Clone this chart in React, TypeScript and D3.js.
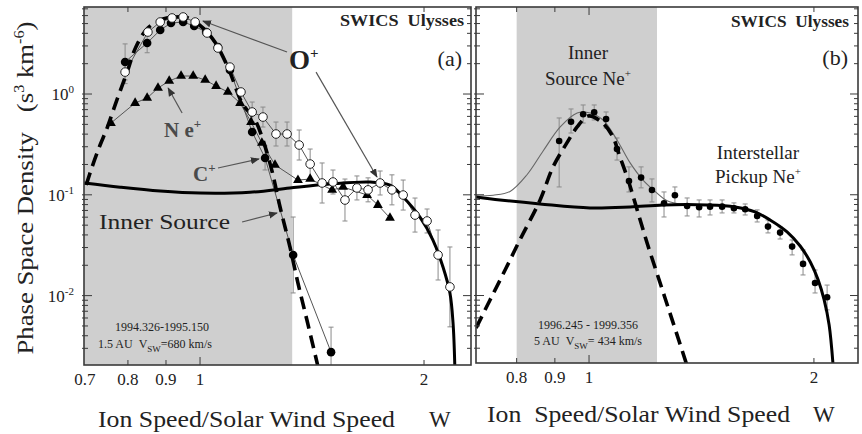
import * as d3 from "d3";

const W = 862;
const H = 434;
const FONT = "'Liberation Serif', 'DejaVu Serif', serif";

// ---------- panel (a): 1994.326-1995.150, 1.5 AU ----------
const aPickupX = [0.699, 0.781, 0.884, 1.0, 1.167, 1.32, 1.495, 1.693, 1.8, 1.875, 1.975, 2.056, 2.121, 2.167, 2.188, 2.2];
const aPickupY = [0.131, 0.119, 0.109, 0.104, 0.106, 0.117, 0.128, 0.134, 0.125, 0.095, 0.06, 0.0356, 0.0192, 0.0106, 0.00535, 0.002];

const aInnerX = [0.703, 0.716, 0.734, 0.75, 0.773, 0.798, 0.82, 0.851, 0.892, 0.928, 0.964, 1.006, 1.047, 1.094, 1.139, 1.186, 1.215, 1.25, 1.281, 1.321, 1.354, 1.392, 1.44];
const aInnerY = [0.125, 0.189, 0.312, 0.46, 0.872, 1.65, 2.93, 4.52, 5.55, 5.81, 5.68, 4.62, 3.28, 1.73, 0.814, 0.55, 0.35, 0.17, 0.0757, 0.0303, 0.0133, 0.00573, 0.002];

// O+ (open circles)
const oPlusX = [0.793, 0.851, 0.884, 0.917, 0.949, 0.985, 1.022, 1.057, 1.097, 1.135, 1.175, 1.215, 1.265, 1.309, 1.359, 1.406, 1.459, 1.509, 1.566, 1.625, 1.682, 1.746, 1.811, 1.875, 1.945, 2.019, 2.089, 2.167];
const oPlusY = [1.65, 4.12, 5.18, 5.68, 5.81, 5.18, 4.03, 2.86, 1.85, 1.047, 0.663, 0.591, 0.401, 0.401, 0.312, 0.202, 0.131, 0.134, 0.0888, 0.117, 0.112, 0.131, 0.112, 0.0995, 0.063, 0.055, 0.0253, 0.0122];
const oPlusErr = [1.3, 1, 1, 1, 1, 1, 1, 1, 1, 1, 1.256, 1.256, 1.315, 1.315, 1.409, 1.409, 1.58, 1.315, 1.615, 1.315, 1.315, 1.315, 1.409, 1.409, 1.475, 1.315, 1.77, 2.49];

// C+ (filled circles)
const cPlusX = [0.793, 0.849, 0.884, 0.914, 0.949, 0.982, 1.019, 1.057, 1.097, 1.175, 1.223, 1.334, 1.5];
const cPlusY = [2.08, 3.21, 4.31, 5.06, 5.18, 4.73, 4.12, 2.93, 1.73, 0.42, 0.232, 0.0253, 0.00275];
const cPlusErr = [1.51, 1.25, 1, 1, 1, 1, 1, 1, 1, 1, 1.315, 2.38, 1.77];

// Ne+ (triangles)
const nePlusX = [0.759, 0.818, 0.849, 0.878, 0.909, 0.943, 0.979, 1.016, 1.051, 1.09, 1.132, 1.171, 1.211, 1.261, 1.354, 1.406, 1.505, 1.557, 1.677, 1.734, 1.8];
const nePlusY = [0.515, 0.814, 0.913, 1.147, 1.346, 1.509, 1.509, 1.377, 1.2, 1.047, 0.814, 0.527, 0.327, 0.198, 0.14, 0.1435, 0.1116, 0.1195, 0.0995, 0.0792, 0.0589];

// ---------- panel (b): 1996.245 - 1999.356, 5 AU ----------
const bPickupX = [0.706, 0.76, 0.86, 1.003, 1.135, 1.256, 1.439, 1.568, 1.668, 1.747, 1.841, 1.917, 1.977, 2.026, 2.064, 2.096, 2.122];
const bPickupY = [0.095, 0.0888, 0.081, 0.074, 0.0757, 0.0792, 0.0792, 0.0757, 0.0675, 0.0562, 0.0428, 0.031, 0.0216, 0.0143, 0.00904, 0.0051, 0.002];

const bInnerX = [0.706, 0.737, 0.772, 0.808, 0.86, 0.895, 0.934, 0.964, 0.997, 1.035, 1.073, 1.1, 1.128, 1.16, 1.196, 1.245, 1.296, 1.353];
const bInnerY = [0.00477, 0.00904, 0.0179, 0.0356, 0.0888, 0.189, 0.327, 0.471, 0.605, 0.54, 0.392, 0.237, 0.14, 0.0707, 0.0332, 0.0133, 0.00535, 0.002];

const bFitX = [0.704, 0.744, 0.784, 0.826, 0.868, 0.915, 0.964, 1.003, 1.044, 1.09, 1.135, 1.181, 1.233, 1.272, 1.35];
const bFitY = [0.097, 0.099, 0.108, 0.158, 0.272, 0.471, 0.648, 0.648, 0.552, 0.35, 0.207, 0.14, 0.104, 0.087, 0.079];

const neX = [0.912, 0.946, 0.982, 1.016, 1.054, 1.09, 1.131, 1.174, 1.214, 1.26, 1.303, 1.353, 1.404, 1.452, 1.507, 1.563, 1.618, 1.679, 1.736, 1.802, 1.87, 1.934, 2.007, 2.083];
const neY = [0.342, 0.531, 0.629, 0.658, 0.565, 0.285, 0.137, 0.148, 0.1116, 0.0824, 0.0989, 0.0774, 0.0751, 0.0762, 0.0762, 0.0734, 0.0718, 0.0616, 0.0483, 0.0421, 0.0306, 0.0206, 0.0133, 0.0096];
const neLo = [0.1195, 0.41, 0.515, 0.552, 0.46, 0.221, 0.1066, 0.117, 0.0849, 0.0602, 0.081, 0.0616, 0.0602, 0.063, 0.066, 0.066, 0.063, 0.0537, 0.0418, 0.0364, 0.0253, 0.016, 0.0106, 0.0072];
const neHi = [0.578, 0.71, 0.778, 0.778, 0.663, 0.366, 0.189, 0.189, 0.1435, 0.1066, 0.1195, 0.0929, 0.0888, 0.0888, 0.0888, 0.083, 0.081, 0.0707, 0.0562, 0.048, 0.0356, 0.0283, 0.0179, 0.0127];

const xTickVals = [0.8, 0.9, 1, 2];
const aXLabels = ["0.7", "0.8", "0.9", "1", "2"];
const bXLabels = ["0.8", "0.9", "1", "2"];
const yLabelExp = ["0", "-1", "-2"];

const aShade = [0.6983, 1.33];
const bShade = [0.8, 1.233];

const panelA = {
  x: d3.scaleLog().domain([0.6983, 2.313]).range([84, 471]),
  y: d3.scaleLog().domain([0.00205, 7.3]).range([365, 7]),
};
const panelB = {
  x: d3.scaleLog().domain([0.7058, 2.291]).range([476, 858]),
  y: d3.scaleLog().domain([0.00214, 7.3]).range([363, 7]),
};

type Panel = typeof panelA;

const zip = (xs: number[], ys: number[]) => xs.map((x, i) => [x, ys[i]] as [number, number]);

const curve = (p: Panel, xs: number[], ys: number[], smooth = true) =>
  d3
    .line<[number, number]>()
    .x((d) => p.x(d[0]))
    .y((d) => p.y(d[1]))
    .curve(smooth ? d3.curveCatmullRom.alpha(0.5) : d3.curveLinear)(zip(xs, ys)) || "";

function Axes({ p }: { p: Panel }) {
  const [x0, x1] = p.x.range();
  const [y1, y0] = p.y.range();
  const yt = p.y.ticks();
  const isMajor = (t: number) => Math.abs(Math.log10(t) - Math.round(Math.log10(t))) < 1e-6;
  return (
    <g stroke="#3a3a3a" strokeWidth={1}>
      {yt.map((t, i) => {
        const L = isMajor(t) ? 8 : 4;
        const yy = p.y(t);
        return (
          <g key={i}>
            <line x1={x0 - 2} x2={x0 + L} y1={yy} y2={yy} />
            <line x1={x1 - L} x2={x1} y1={yy} y2={yy} />
          </g>
        );
      })}
      {xTickVals.map((t, i) => {
        const L = t === 1 ? 8 : 5;
        const xx = p.x(t);
        return (
          <g key={i}>
            <line x1={xx} x2={xx} y1={y0} y2={y0 + L} />
            <line x1={xx} x2={xx} y1={y1 - L} y2={y1} />
          </g>
        );
      })}
      <rect x={x0} y={y0} width={x1 - x0} height={y1 - y0} fill="none" strokeWidth={1.6} />
    </g>
  );
}

function ErrBar({ x, lo, hi }: { x: number; lo: number; hi: number }) {
  return (
    <g stroke="#8a8a8a" strokeWidth={1}>
      <line x1={x} x2={x} y1={lo} y2={hi} />
      <line x1={x - 2.5} x2={x + 2.5} y1={lo} y2={lo} />
      <line x1={x - 2.5} x2={x + 2.5} y1={hi} y2={hi} />
    </g>
  );
}

function Arrow({ p, from, to }: { p: Panel; from: [number, number]; to: [number, number] }) {
  return (
    <line
      x1={p.x(from[0])}
      y1={p.y(from[1])}
      x2={p.x(to[0])}
      y2={p.y(to[1])}
      stroke="#555"
      strokeWidth={1.2}
      markerEnd="url(#arrowHead)"
    />
  );
}

function Sup({ children, dy = -8, size = 12 }: { children: any; dy?: number; size?: number }) {
  return (
    <tspan dy={dy} fontSize={size}>
      {children}
    </tspan>
  );
}

export default function App() {
  const A = panelA;
  const B = panelB;
  const tri = d3.symbol(d3.symbolTriangle, 42)() || "";

  return (
    <svg
      width={W}
      height={H}
      viewBox={`0 0 ${W} ${H}`}
      style={{ position: "absolute", left: 0, top: 0, background: "#fff" }}
      fontFamily={FONT}
    >
      <defs>
        <marker id="arrowHead" viewBox="0 0 10 10" refX="9" refY="5" markerWidth="9" markerHeight="9" orient="auto-start-reverse" markerUnits="userSpaceOnUse">
          <path d="M0,1 L10,5 L0,9 Z" fill="#333" />
        </marker>
        <clipPath id="clipA">
          <rect x={84} y={7} width={387} height={358} />
        </clipPath>
        <clipPath id="clipB">
          <rect x={476} y={7} width={382} height={356} />
        </clipPath>
      </defs>

      {/* ---------------- panel (a) ---------------- */}
      <g clipPath="url(#clipA)">
        <rect x={A.x(aShade[0])} y={7} width={A.x(aShade[1]) - A.x(aShade[0])} height={358} fill="#cfcfcf" />
        {oPlusX.map((x, i) =>
          oPlusErr[i] > 1 ? <ErrBar key={"oe" + i} x={A.x(x)} lo={A.y(oPlusY[i] / oPlusErr[i])} hi={A.y(oPlusY[i] * oPlusErr[i])} /> : null
        )}
        {cPlusX.map((x, i) =>
          cPlusErr[i] > 1 ? <ErrBar key={"ce" + i} x={A.x(x)} lo={A.y(cPlusY[i] / cPlusErr[i])} hi={A.y(cPlusY[i] * cPlusErr[i])} /> : null
        )}
        <path d={curve(A, oPlusX, oPlusY, false)} fill="none" stroke="#555" strokeWidth={1} />
        <path d={curve(A, cPlusX, cPlusY, false)} fill="none" stroke="#555" strokeWidth={1} />
        <path d={curve(A, nePlusX, nePlusY, false)} fill="none" stroke="#555" strokeWidth={1} />
        <path d={curve(A, aInnerX, aInnerY)} fill="none" stroke="#000" strokeWidth={3.6} strokeDasharray="13 7" />
        <path d={curve(A, aPickupX, aPickupY)} fill="none" stroke="#000" strokeWidth={3} />
        {nePlusX.map((x, i) => (
          <path key={"t" + i} d={tri} transform={`translate(${A.x(x)},${A.y(nePlusY[i])})`} fill="#000" />
        ))}
        {cPlusX.map((x, i) => (
          <circle key={"c" + i} cx={A.x(x)} cy={A.y(cPlusY[i])} r={4.3} fill="#000" />
        ))}
        {oPlusX.map((x, i) => (
          <circle key={"o" + i} cx={A.x(x)} cy={A.y(oPlusY[i])} r={4.3} fill="#fff" stroke="#222" strokeWidth={1} />
        ))}
      </g>
      <Axes p={A} />

      <g fill="#222">
        <text x={464} y={26} textAnchor="end" fontWeight="bold" fontSize={17} textLength={124} lengthAdjust="spacingAndGlyphs">SWICS&#160;&#160;Ulysses</text>
        <text x={462} y={66} textAnchor="end" fontSize={22}>(a)</text>
        <text x={289} y={69} fontSize={27} fontWeight="bold">
          O<Sup dy={-11} size={15}>+</Sup>
        </text>
        <text x={164} y={137} fontSize={21} fill="#4a4a4a" fontWeight="bold">
          N e<Sup dy={-9} size={13}>+</Sup>
        </text>
        <text x={193} y={181} fontSize={21} fill="#4a4a4a" fontWeight="bold">
          C<Sup dy={-9} size={13}>+</Sup>
        </text>
        <text x={99} y={229} fontSize={21} textLength={131} lengthAdjust="spacingAndGlyphs">Inner Source</text>
        <text x={162} y={331} textAnchor="middle" fontSize={12}>1994.326-1995.150</text>
        <text x={98} y={348} fontSize={12}>
          1.5 AU&#160;&#160;V<tspan dy={4} fontSize={9}>SW</tspan>
          <tspan dy={-4}>=680 km/s</tspan>
        </text>
      </g>
      <Arrow p={A} from={[1.309, 2.61]} to={[1.009, 5.3]} />
      <Arrow p={A} from={[1.432, 1.65]} to={[1.729, 0.15]} />
      <Arrow p={A} from={[0.946, 0.648]} to={[0.906, 1.147]} />
      <Arrow p={A} from={[1.057, 0.1845]} to={[1.2, 0.2265]} />
      <Arrow p={A} from={[1.139, 0.0537]} to={[1.269, 0.066]} />

      {/* ---------------- panel (b) ---------------- */}
      <g clipPath="url(#clipB)">
        <rect x={B.x(bShade[0])} y={7} width={B.x(bShade[1]) - B.x(bShade[0])} height={356} fill="#cfcfcf" />
        {neX.map((x, i) => (
          <ErrBar key={"ne" + i} x={B.x(x)} lo={B.y(neLo[i])} hi={B.y(neHi[i])} />
        ))}
        <path d={curve(B, bFitX, bFitY)} fill="none" stroke="#666" strokeWidth={1.1} />
        <path d={curve(B, bInnerX, bInnerY)} fill="none" stroke="#000" strokeWidth={3.6} strokeDasharray="13 7" />
        <path d={curve(B, bPickupX, bPickupY)} fill="none" stroke="#000" strokeWidth={3} />
        {neX.map((x, i) => (
          <circle key={"n" + i} cx={B.x(x)} cy={B.y(neY[i])} r={3.3} fill="#000" />
        ))}
      </g>
      <Axes p={B} />

      <g fill="#222">
        <text x={849} y={27} textAnchor="end" fontWeight="bold" fontSize={17} textLength={118} lengthAdjust="spacingAndGlyphs">SWICS&#160;&#160;Ulysses</text>
        <text x={848} y={65} textAnchor="end" fontSize={22}>(b)</text>
        <text x={588} y={59} textAnchor="middle" fontSize={19}>Inner</text>
        <text x={588} y={85} textAnchor="middle" fontSize={19}>
          Source Ne<Sup dy={-8} size={11}>+</Sup>
        </text>
        <text x={758} y={159} textAnchor="middle" fontSize={19}>Interstellar</text>
        <text x={758} y={183} textAnchor="middle" fontSize={19}>
          Pickup Ne<Sup dy={-8} size={11}>+</Sup>
        </text>
        <text x={588} y={329} textAnchor="middle" fontSize={12}>1996.245 - 1999.356</text>
        <text x={588} y={345} textAnchor="middle" fontSize={12}>
          5 AU&#160;&#160;V<tspan dy={4} fontSize={9}>SW</tspan>
          <tspan dy={-4}>= 434 km/s</tspan>
        </text>
      </g>

      {/* ---------------- axis labels ---------------- */}
      <g fill="#222" fontSize={17}>
        {aXLabels.map((s, i) => (
          <text key={"ax" + i} x={A.x(+s)} y={385} textAnchor="middle">
            {s}
          </text>
        ))}
        {bXLabels.map((s, i) => (
          <text key={"bx" + i} x={B.x(+s)} y={383} textAnchor="middle">
            {s}
          </text>
        ))}
        {yLabelExp.map((e, i) => (
          <text key={"yl" + i} x={74} y={A.y(Math.pow(10, +e)) + 6} textAnchor="end">
            10<Sup dy={-7} size={11}>{e}</Sup>
          </text>
        ))}
      </g>
      <g fill="#222" fontSize={23}>
        <text x={98} y={427} textLength={297} lengthAdjust="spacingAndGlyphs">Ion Speed/Solar Wind Speed</text>
        <text x={429} y={427}>W</text>
        <text x={487} y={422} textLength={303} lengthAdjust="spacingAndGlyphs">Ion&#160;&#160;Speed/Solar Wind Speed</text>
        <text x={813} y={422}>W</text>
        <text transform="translate(33,188) rotate(-90)" textAnchor="middle" textLength={333} lengthAdjust="spacingAndGlyphs">
          Phase Space Density&#160;&#160;&#160;(s<Sup dy={-9} size={14}>3</Sup>
          <tspan dy={9}> km</tspan>
          <Sup dy={-9} size={14}>-6</Sup>
          <tspan dy={9}>)</tspan>
        </text>
      </g>
    </svg>
  );
}
